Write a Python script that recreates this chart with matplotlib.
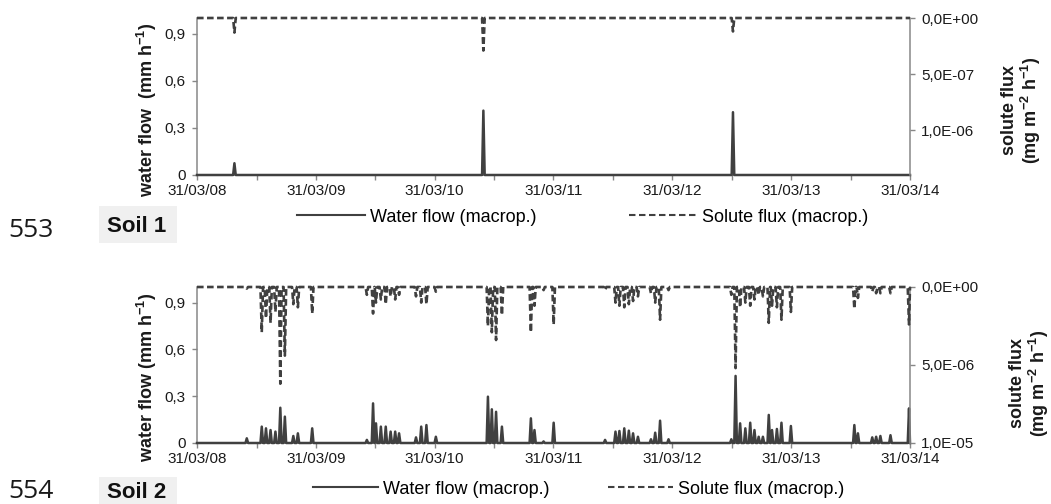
"""Macropore water flow and solute flux, Soil 1 / Soil 2 (two stacked panels)."""
import datetime as dt

import matplotlib
matplotlib.use("Agg")
import matplotlib.pyplot as plt
import matplotlib.dates as mdates
from matplotlib.patches import Rectangle
from matplotlib.ticker import FixedLocator, FuncFormatter
from matplotlib.lines import Line2D

plt.rcParams["font.family"] = ["Liberation Sans", "DejaVu Sans"]
plt.rcParams["mathtext.fontset"] = "custom"
plt.rcParams["mathtext.bf"] = "Liberation Sans:bold"
plt.rcParams["mathtext.rm"] = "Liberation Sans"
plt.rcParams["mathtext.default"] = "bf"

W, H = 1051, 504
C_LINE = "#404040"
C_AXIS = "#878787"
C_TEXT = "#1a1a1a"
DASH = (0, (2.5, 1.3))

# ---- data ----
START, END = "2008-03-31", "2014-03-31"
YEAR_TICKS = ["2008-03-31", "2009-03-31", "2010-03-31", "2011-03-31",
              "2012-03-31", "2013-03-31", "2014-03-31"]
HALF_TICKS = ["2008-09-30", "2009-09-30", "2010-09-30", "2011-09-30",
              "2012-09-30", "2013-09-30"]

# Soil 1
S1_DATES = ["2008-07-24", "2010-08-28", "2012-10-03"]
S1_FLOW = [0.075, 0.41, 0.40]            # mm h-1
S1_SOLUTE = [1.3e-7, 2.9e-7, 1.2e-7]     # mg m-2 h-1

# Soil 2
S2_DATES = [
    "2008-08-31", "2008-10-16", "2008-10-29", "2008-11-12", "2008-11-27",
    "2008-12-12", "2008-12-26", "2009-01-21", "2009-02-04", "2009-03-20",
    "2009-09-04", "2009-09-23", "2009-10-02", "2009-10-17", "2009-11-01",
    "2009-11-16", "2009-11-30", "2009-12-12", "2010-02-02", "2010-02-18",
    "2010-03-06", "2010-04-04", "2010-09-11", "2010-09-23", "2010-10-06",
    "2010-10-24", "2011-01-21", "2011-02-01", "2011-03-01", "2011-04-01",
    "2011-09-06", "2011-10-08", "2011-10-20", "2011-11-04", "2011-11-18",
    "2011-12-01", "2011-12-16", "2012-01-25", "2012-02-07", "2012-02-22",
    "2012-03-19", "2012-09-28", "2012-10-11", "2012-10-25", "2012-11-10",
    "2012-11-25", "2012-12-08", "2012-12-21", "2013-01-03", "2013-01-21",
    "2013-01-31", "2013-02-15", "2013-03-01", "2013-03-30", "2013-10-11",
    "2013-10-22", "2013-12-05", "2013-12-17", "2013-12-30", "2014-01-30",
    "2014-03-28",
]
S2_FLOW = [
    0.03, 0.105, 0.094, 0.083, 0.073, 0.226, 0.169, 0.045, 0.062, 0.094,
    0.02, 0.254, 0.126, 0.105, 0.105, 0.073, 0.073, 0.062, 0.036, 0.105,
    0.115, 0.04, 0.297, 0.216, 0.20, 0.105, 0.158, 0.083, 0.01, 0.13,
    0.02, 0.073, 0.077, 0.094, 0.079, 0.062, 0.04, 0.024, 0.066, 0.143,
    0.024, 0.024, 0.43, 0.126, 0.094, 0.13, 0.083, 0.04, 0.04, 0.18,
    0.083, 0.09, 0.13, 0.109, 0.115, 0.062, 0.036, 0.04, 0.045, 0.05,
    0.222,
]
S2_SOLUTE = [
    0.1e-6, 2.9e-6, 2.0e-6, 2.3e-6, 1.6e-6, 6.2e-6, 4.4e-6, 1.1e-6, 1.3e-6, 1.7e-6,
    0.5e-6, 1.7e-6, 1.0e-6, 0.8e-6, 1.1e-6, 0.6e-6, 0.8e-6, 0.5e-6, 0.6e-6, 1.0e-6,
    1.1e-6, 0.3e-6, 2.5e-6, 2.9e-6, 3.4e-6, 1.8e-6, 2.9e-6, 1.2e-6, 0.2e-6, 2.4e-6,
    0.2e-6, 1.0e-6, 1.2e-6, 1.3e-6, 1.1e-6, 0.9e-6, 0.6e-6, 0.4e-6, 1.0e-6, 2.1e-6,
    0.2e-6, 0.5e-6, 5.2e-6, 1.3e-6, 1.0e-6, 1.2e-6, 0.8e-6, 0.5e-6, 0.6e-6, 2.3e-6,
    1.2e-6, 1.3e-6, 2.1e-6, 1.6e-6, 1.4e-6, 0.7e-6, 0.3e-6, 0.4e-6, 0.4e-6, 0.4e-6,
    2.4e-6,
]


def d(s):
    return dt.datetime.strptime(s, "%Y-%m-%d")


def spikes(dates, values, hw=4):
    """Zero baseline with a narrow peak at each event date."""
    x, y = [d(START)], [0.0]
    for s, v in zip(dates, values):
        c = d(s)
        x += [c - dt.timedelta(days=hw), c, min(c + dt.timedelta(days=hw), d(END))]
        y += [0.0, v, 0.0]
    x.append(d(END))
    y.append(0.0)
    return x, y


def comma(v, _=None):
    return ("%g" % round(v, 2)).replace(".", ",")


def sci(v, _=None):
    return ("%.1E" % v).replace(".", ",")


def fx(px):
    return px / W


def fy(py):
    return 1 - py / H


def panel(fig, top, bottom, dates, flow, solute, sol_max, sol_ticks):
    ax = fig.add_axes([fx(197), fy(bottom), fx(910) - fx(197), fy(top) - fy(bottom)])
    ax2 = ax.twinx()

    xs, ys = spikes(dates, flow)
    ax.plot(xs, ys, color=C_LINE, lw=1.8, clip_on=False, zorder=5)
    xs2, ys2 = spikes(dates, solute)
    ax2.plot(xs2, ys2, color=C_LINE, lw=1.9, ls=DASH, clip_on=False, zorder=5)

    ax.set_xlim(d(START), d(END))
    ax.set_ylim(0, 1.0)
    ax2.set_ylim(sol_max, 0)

    ax.xaxis.set_major_locator(FixedLocator([mdates.date2num(d(s)) for s in YEAR_TICKS]))
    ax.xaxis.set_minor_locator(FixedLocator([mdates.date2num(d(s)) for s in HALF_TICKS]))
    ax.xaxis.set_major_formatter(mdates.DateFormatter("%d/%m/%y"))
    ax.yaxis.set_major_locator(FixedLocator([0, 0.3, 0.6, 0.9]))
    ax.yaxis.set_major_formatter(FuncFormatter(comma))
    ax2.yaxis.set_major_locator(FixedLocator(sol_ticks))
    ax2.yaxis.set_major_formatter(FuncFormatter(sci))

    for a in (ax, ax2):
        for side in ("top", "left", "right", "bottom"):
            a.spines[side].set_visible(False)
        a.tick_params(which="both", direction="out", length=3.6, width=1.0,
                      color=C_AXIS, labelsize=11, labelcolor=C_TEXT, pad=4.5)
    ax.spines["left"].set_visible(True)
    ax.spines["bottom"].set_visible(True)
    ax2.spines["right"].set_visible(True)
    for sp in (ax.spines["left"], ax.spines["bottom"], ax2.spines["right"]):
        sp.set_color(C_AXIS)
        sp.set_linewidth(1.1)
    ax.tick_params(axis="x", pad=3)
    ax.patch.set_visible(False)
    return ax, ax2


def soil_box(fig, x0, y0, x1, y1, label, ty):
    fig.patches.append(Rectangle((fx(x0), fy(y1)), fx(x1) - fx(x0), fy(y0) - fy(y1),
                                 transform=fig.transFigure, fc="#f0f0f0", ec="none"))
    fig.text(fx(107), fy(ty), label, ha="left", va="center",
             fontsize=16, fontweight="bold", color="#111111")


def legend(fig, x, y, hl, cs):
    handles = [Line2D([], [], color=C_LINE, lw=1.5),
               Line2D([], [], color=C_LINE, lw=1.5, ls=(0, (3.1, 1.7)))]
    fig.legend(handles, ["Water flow (macrop.)", "Solute flux (macrop.)"],
               loc="center left", bbox_to_anchor=(fx(x), fy(y)), ncol=2,
               frameon=False, borderpad=0, borderaxespad=0, fontsize=13,
               handlelength=hl, handletextpad=0.3, columnspacing=cs)


fig = plt.figure(figsize=(W / 100, H / 100), dpi=100)
fig.patch.set_facecolor("white")

# Soil 1
panel(fig, 18, 175, S1_DATES, S1_FLOW, S1_SOLUTE, 1.4e-6, [0, 5e-7, 1e-6])
fig.text(fx(147), fy(110), "water flow  (mm h$^{-1}$)", rotation=90,
         ha="center", va="center", fontsize=13, fontweight="bold", color=C_TEXT)
fig.text(fx(1022), fy(110), "solute flux\n(mg m$^{-2}$ h$^{-1}$)", rotation=90,
         ha="center", va="center", fontsize=13, fontweight="bold",
         color=C_TEXT, linespacing=1.0, multialignment="center")
legend(fig, 297, 217, 3.75, 5.1)
soil_box(fig, 99, 206, 177, 243, "Soil 1", 226)
fig.text(fx(8), fy(231), "553", ha="left", va="center", fontsize=19,
         family="Open Sans", color="#1a1a1a")

# Soil 2
panel(fig, 287, 443, S2_DATES, S2_FLOW, S2_SOLUTE, 1e-5, [0, 5e-6, 1e-5])
fig.text(fx(147), fy(377), "water flow (mm h$^{-1}$)", rotation=90,
         ha="center", va="center", fontsize=13, fontweight="bold", color=C_TEXT)
fig.text(fx(1030), fy(383), "solute flux\n(mg m$^{-2}$ h$^{-1}$)", rotation=90,
         ha="center", va="center", fontsize=13, fontweight="bold",
         color=C_TEXT, linespacing=1.0, multialignment="center")
legend(fig, 313, 489, 3.6, 3.2)
soil_box(fig, 99, 477, 177, 514, "Soil 2", 492)
fig.text(fx(8), fy(492), "554", ha="left", va="center", fontsize=19,
         family="Open Sans", color="#1a1a1a")

fig.savefig("out.png", dpi=100, facecolor="white")
